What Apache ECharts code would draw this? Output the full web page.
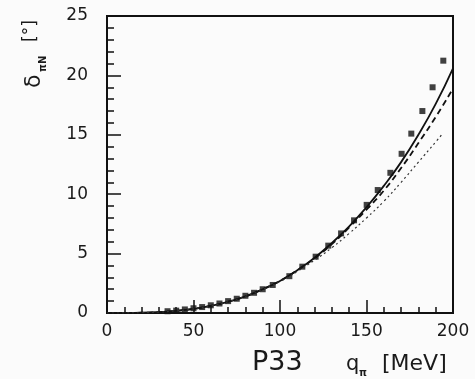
<!DOCTYPE html>
<html><head><meta charset="utf-8">
<script src="https://cdn.jsdelivr.net/npm/echarts@6/dist/echarts.min.js"></script>
<style>html,body{margin:0;padding:0;background:#fbfbfb}#c{width:475px;height:379px}</style>
</head><body><div id="c"></div>
<script>
// data points (q_pi in MeV, phase shift in degrees)
var dataQ = [35,40,45,50,55,60,65,70,75,80,85,90,95.8,105.4,112.9,120.6,127.9,135.3,142.8,150.1,156.5,163.8,170.3,175.9,182.3,188.2,194.4];
var dataD = [0.15,0.2,0.3,0.4,0.5,0.65,0.8,1.0,1.2,1.45,1.7,2.0,2.36,3.1,3.9,4.74,5.67,6.7,7.8,9.1,10.35,11.8,13.4,15.1,17.0,19.0,21.24];
// curves
var curveQ = [0,10,20,30,40,50,60,70,80,90,100,110,120,130,140,150,160,170,180,190,200];
var solidD = [0,0.003,0.02,0.08,0.18,0.35,0.6,0.95,1.4,2.0,2.7,3.6,4.65,5.9,7.3,8.9,10.7,12.7,15.0,17.6,20.6];
var dashedD = [0,0.003,0.02,0.08,0.18,0.35,0.6,0.95,1.4,2.0,2.7,3.6,4.6,5.8,7.2,8.7,10.3,12.2,14.3,16.5,18.9];
var dottedQ = [0,10,20,30,40,50,60,70,80,90,100,110,120,130,140,150,160,170,180,190,194];
var dottedD = [0,0.003,0.02,0.08,0.18,0.35,0.6,0.95,1.4,1.98,2.65,3.5,4.45,5.5,6.7,8.0,9.4,11.0,12.7,14.4,15.1];
var xTicks = [0,50,100,150,200];
var yTicks = [0,5,10,15,20,25];

function pairs(xs, ys){ return xs.map(function(x,i){ return [x, ys[i]]; }); }

var chart = echarts.init(document.getElementById('c'), null, {renderer:'canvas'});
var font = 'DejaVu Sans, sans-serif';
chart.setOption({
  backgroundColor: '#fbfbfb',
  animation: false,
  grid: {left:107, right:22, top:16, bottom:66, show:true, borderColor:'#111', borderWidth:2, backgroundColor:'transparent'},
  xAxis: {
    type:'value', min:0, max:200, interval:50,
    axisLine:{lineStyle:{color:'#111', width:2}},
    axisTick:{inside:true, length:13, lineStyle:{color:'#111', width:1.5}},
    minorTick:{show:true, splitNumber:5, length:6, lineStyle:{color:'#111', width:1.5}},
    splitLine:{show:false},
    axisLabel:{color:'#1a1a1a', fontSize:17, fontFamily:font, margin:10}
  },
  yAxis: {
    type:'value', min:0, max:25, interval:5,
    axisLine:{lineStyle:{color:'#111', width:2}},
    axisTick:{inside:true, length:14, lineStyle:{color:'#111', width:1.5}},
    minorTick:{show:true, splitNumber:5, length:7, lineStyle:{color:'#111', width:1.5}},
    splitLine:{show:false},
    axisLabel:{color:'#1a1a1a', fontSize:17, fontFamily:font, margin:19}
  },
  series: [
    {type:'line', data:pairs(curveQ, solidD), showSymbol:false, smooth:true, lineStyle:{color:'#111', width:1.8}},
    {type:'line', data:pairs(curveQ, dashedD), showSymbol:false, smooth:true, lineStyle:{color:'#111', width:1.8, type:[6,4]}},
    {type:'line', data:pairs(dottedQ, dottedD), showSymbol:false, smooth:true, lineStyle:{color:'#333', width:1.2, type:[2,3]}},
    {type:'scatter', data:pairs(dataQ, dataD), symbol:'rect', symbolSize:6, itemStyle:{color:'#111'}}
  ],
  graphic: [
    {type:'text', left:252, top:349, style:{text:'P33', font:'27px DejaVu Sans, sans-serif', fill:'#1a1a1a'}},
    {type:'text', left:346, top:354, style:{text:'q', font:'21px DejaVu Sans, sans-serif', fill:'#1a1a1a'}},
    {type:'text', left:359, top:368, style:{text:'π', font:'bold 10px DejaVu Sans, sans-serif', fill:'#1a1a1a'}},
    {type:'text', left:382, top:353, style:{text:'[MeV]', font:'22px DejaVu Sans, sans-serif', fill:'#1a1a1a'}},
    {type:'group', x:34, y:52, rotation:Math.PI/2, children:[
      {type:'text', x:-36, y:0, style:{text:'δ', font:'22px DejaVu Sans, sans-serif', fill:'#1a1a1a', verticalAlign:'middle', align:'left'}},
      {type:'text', x:-20, y:9, style:{text:'πN', font:'bold 10px DejaVu Sans, sans-serif', fill:'#1a1a1a', verticalAlign:'middle', align:'left'}},
      {type:'text', x:10, y:-3, style:{text:'[°]', font:'17px DejaVu Sans, sans-serif', fill:'#1a1a1a', verticalAlign:'middle', align:'left'}}
    ]}
  ]
});
</script></body></html>
